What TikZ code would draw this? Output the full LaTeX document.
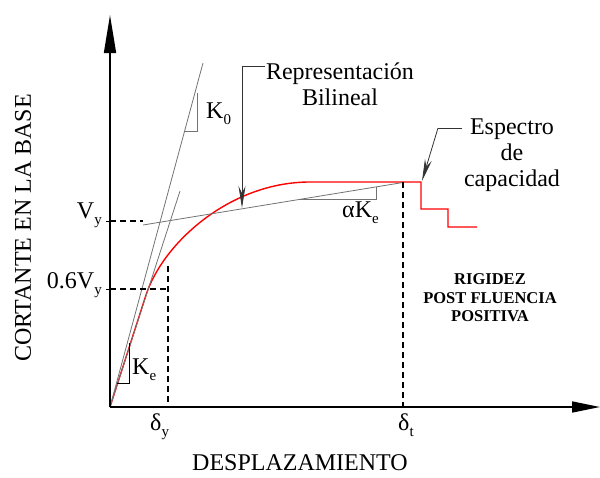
\documentclass[tikz,border=0pt]{standalone}
\usepackage{fontspec}
\setmainfont{Liberation Serif}
\usetikzlibrary{arrows.meta}
\newcommand\mysub[1]{\raisebox{-0.28em}{\fontsize{15}{15}\selectfont #1}}
\begin{document}
\begin{tikzpicture}[x=1pt,y=-1pt,
  lbl/.style={font=\fontsize{24}{26}\selectfont, inner sep=0pt},
  boldlbl/.style={font=\bfseries\fontsize{16.5}{18.5}\selectfont, inner sep=0pt, align=center},
  yaxis/.style={line width=1.6pt, -{Triangle[length=38pt,width=12pt]}},
  xaxis/.style={line width=1.6pt, -{Triangle[length=28pt,width=11pt]}},
  dashline/.style={line width=1.3pt, dash pattern=on 6pt off 4pt},
  thinline/.style={draw=black!55, line width=0.8pt},
  curve/.style={draw=red, line width=1.4pt},
  note/.style={draw=black!80, line width=0.8pt, -{Stealth[length=22pt,width=7pt]}}
]
\useasboundingbox (0,0) rectangle (600,477);
% key points
\coordinate (O) at (110,407);
\coordinate (ytop) at (110,15);
\coordinate (xend) at (600,407);
\coordinate (vyax) at (110,221);
\coordinate (vyend) at (143,221);
\coordinate (svax) at (110,289);
\coordinate (sv) at (168,289);
\coordinate (dyb) at (168,407);
\coordinate (dytop) at (168,266);
\coordinate (dtb) at (403,407);
\coordinate (dttop) at (403,182);
\coordinate (k0top) at (203,63);
\coordinate (ketop) at (180,191);
\coordinate (bl1) at (143,225);
\coordinate (bl2) at (403,182.5);
% red capacity curve
\draw[curve] (O) -- (146,295) .. controls (163,243) and (230,182) .. (310,182)
  -- (421,182) -- (421,209) -- (448,209) -- (448,227) -- (477,227);
% stiffness lines
\draw[thinline] (O) -- (k0top);
\draw[thinline] (O) -- (ketop);
\draw[thinline] (bl1) -- (bl2);
% slope triangles
\draw[thinline] (185,131) -- (197,131) -- (197,93);
\draw[draw=black, line width=0.9pt] (117,383) -- (129,383) -- (129,343);
\draw[thinline] (297.6,199) -- (376,199) -- (376,186.8);
% dashed guides
\draw[dashline] (vyax) -- (vyend);
\draw[dashline] (svax) -- (sv);
\draw[dashline] (dytop) -- (dyb);
\draw[dashline] (dttop) -- (dtb);
% axes
\draw[yaxis] (O) -- (ytop);
\draw[xaxis] (O) -- (xend);
\draw[line width=1pt] (vyax) -- ++(-4,0);
\draw[line width=1pt] (svax) -- ++(-4,0);
% labels
\node[lbl, anchor=base east] (vy) at (102,218) {V\mysub{y}};
\node[lbl, anchor=base east] (v06) at (102,288) {0.6V\mysub{y}};
\node[lbl, anchor=base west] (dy) at (150,430) {δ\mysub{y}};
\node[lbl, anchor=base west] (dt) at (398,430) {δ\mysub{t}};
\node[lbl, anchor=base west] (k0) at (206,118) {K\mysub{0}};
\node[lbl, anchor=base west] (ke) at (132,374) {K\mysub{e}};
\node[lbl, anchor=base west] (ak) at (342,217) {αK\mysub{e}};
\node[lbl, anchor=base] (xlab) at (300,470) {DESPLAZAMIENTO};
\node[lbl, rotate=90] (ylab) at (23,228) {CORTANTE EN LA BASE};
\node[lbl, align=center] (rep) at (340,84) {Representación\\Bilineal};
\node[lbl, align=center] (esp) at (512,155) {Espectro\\de\\capacidad};
\node[boldlbl] (rig) at (490,298) {RIGIDEZ\\POST FLUENCIA\\POSITIVA};
% annotation arrows
\coordinate (repc) at (242,66);
\coordinate (reptip) at (242,208);
\coordinate (espc) at (438,128);
\coordinate (esptip) at (422,181);
\draw[draw=black!80, line width=0.8pt] (265,66) -- (repc);
\draw[note] (repc) -- (reptip);
\draw[draw=black!80, line width=0.8pt] (462,128) -- (espc);
\draw[note] (espc) -- (esptip);
\end{tikzpicture}
\end{document}
